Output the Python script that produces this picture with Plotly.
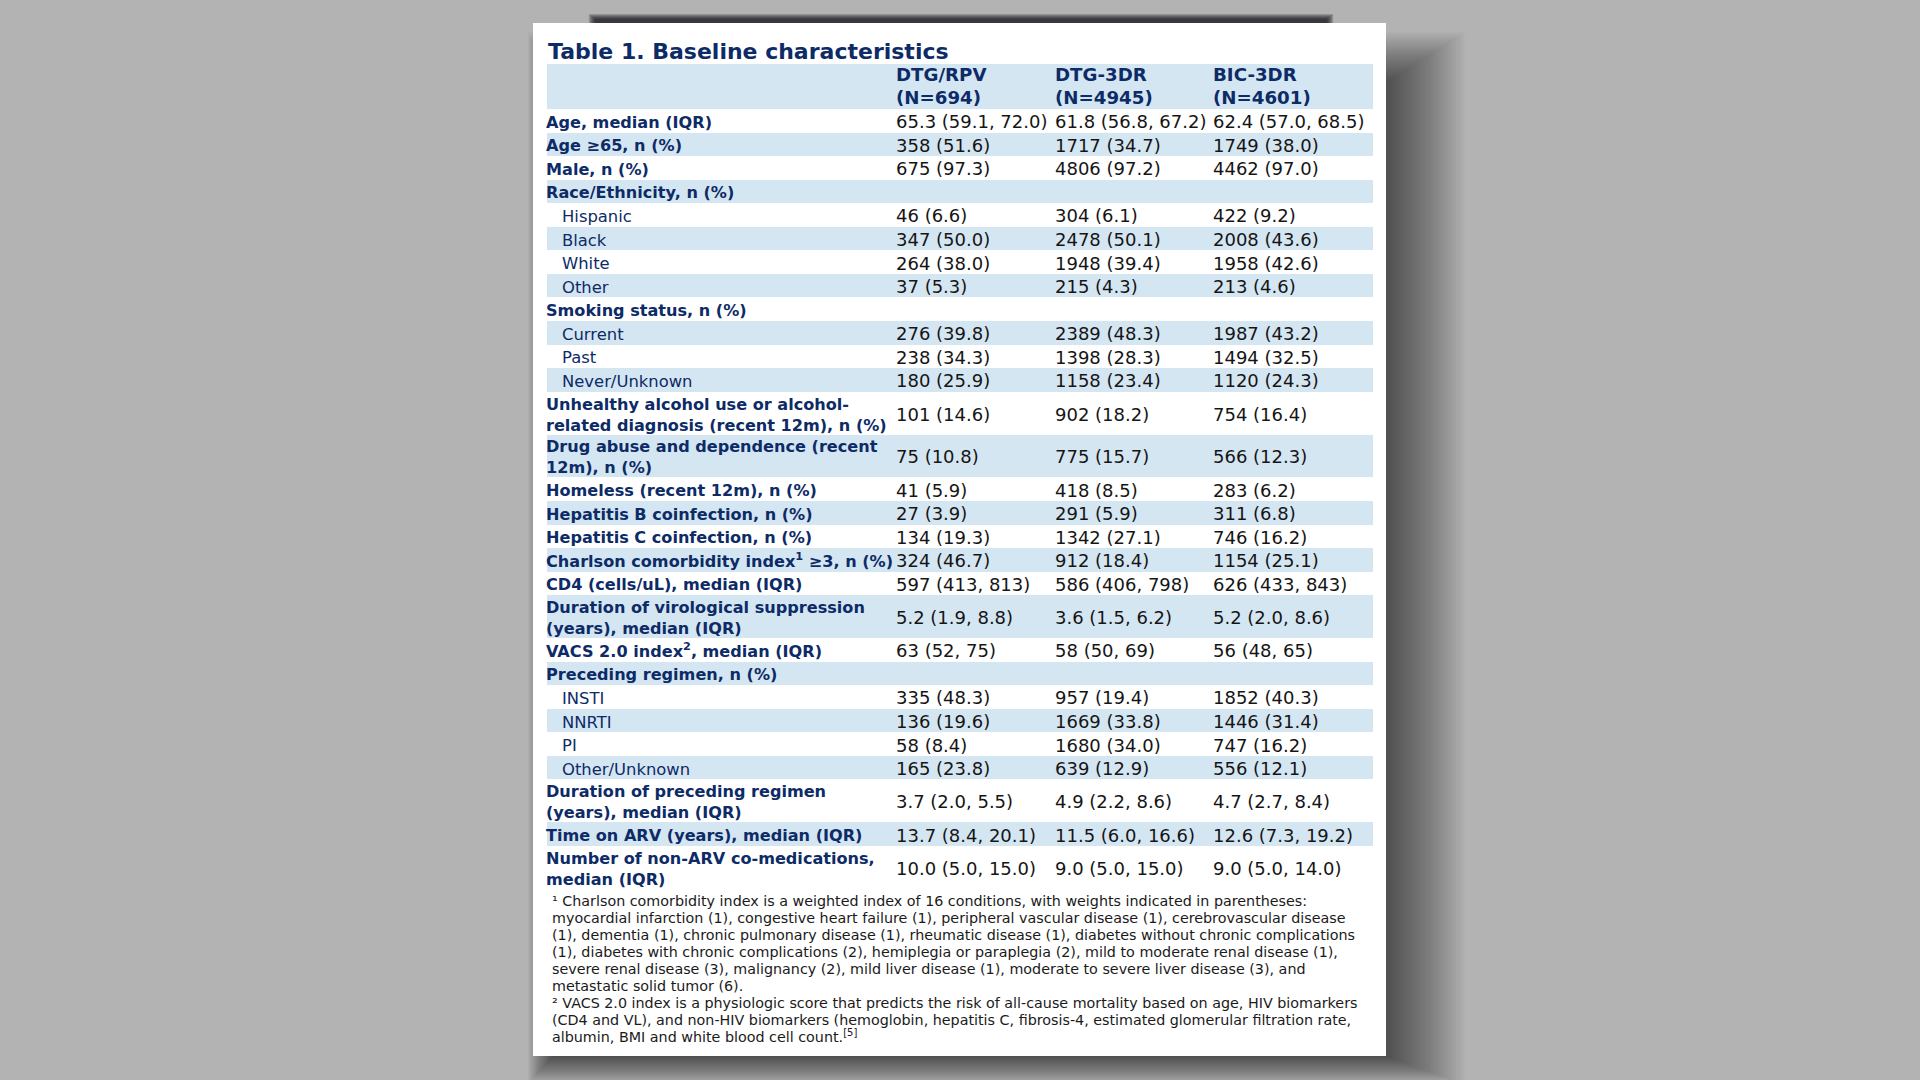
import plotly.graph_objects as go

# ---- data -------------------------------------------------------------
arms = ["DTG/RPV", "DTG-3DR", "BIC-3DR"]
arm_n = [694, 4945, 4601]

labels = [
    "Age, median (IQR)",
    "Age ≥65, n (%)",
    "Male, n (%)",
    "Race/Ethnicity, n (%)",
    "Hispanic",
    "Black",
    "White",
    "Other",
    "Smoking status, n (%)",
    "Current",
    "Past",
    "Never/Unknown",
    "Unhealthy alcohol use or alcohol-<br>related diagnosis (recent 12m), n (%)",
    "Drug abuse and dependence (recent<br>12m), n (%)",
    "Homeless (recent 12m), n (%)",
    "Hepatitis B coinfection, n (%)",
    "Hepatitis C coinfection, n (%)",
    "Charlson comorbidity index<sup>1</sup> ≥3, n (%)",
    "CD4 (cells/uL), median (IQR)",
    "Duration of virological suppression<br>(years), median (IQR)",
    "VACS 2.0 index<sup>2</sup>, median (IQR)",
    "Preceding regimen, n (%)",
    "INSTI",
    "NNRTI",
    "PI",
    "Other/Unknown",
    "Duration of preceding regimen<br>(years), median (IQR)",
    "Time on ARV (years), median (IQR)",
    "Number of non-ARV co-medications,<br>median (IQR)",
]
is_sub = [
    False, False, False, False, True, True, True, True,
    False, True, True, True, False, False, False, False, False,
    False, False, False, False, False, True, True, True, True,
    False, False, False,
]

dtg_rpv = [
    "65.3 (59.1, 72.0)", "358 (51.6)", "675 (97.3)", "",
    "46 (6.6)", "347 (50.0)", "264 (38.0)", "37 (5.3)", "",
    "276 (39.8)", "238 (34.3)", "180 (25.9)", "101 (14.6)", "75 (10.8)",
    "41 (5.9)", "27 (3.9)", "134 (19.3)", "324 (46.7)", "597 (413, 813)",
    "5.2 (1.9, 8.8)", "63 (52, 75)", "", "335 (48.3)", "136 (19.6)",
    "58 (8.4)", "165 (23.8)", "3.7 (2.0, 5.5)", "13.7 (8.4, 20.1)",
    "10.0 (5.0, 15.0)",
]
dtg_3dr = [
    "61.8 (56.8, 67.2)", "1717 (34.7)", "4806 (97.2)", "",
    "304 (6.1)", "2478 (50.1)", "1948 (39.4)", "215 (4.3)", "",
    "2389 (48.3)", "1398 (28.3)", "1158 (23.4)", "902 (18.2)", "775 (15.7)",
    "418 (8.5)", "291 (5.9)", "1342 (27.1)", "912 (18.4)", "586 (406, 798)",
    "3.6 (1.5, 6.2)", "58 (50, 69)", "", "957 (19.4)", "1669 (33.8)",
    "1680 (34.0)", "639 (12.9)", "4.9 (2.2, 8.6)", "11.5 (6.0, 16.6)",
    "9.0 (5.0, 15.0)",
]
bic_3dr = [
    "62.4 (57.0, 68.5)", "1749 (38.0)", "4462 (97.0)", "",
    "422 (9.2)", "2008 (43.6)", "1958 (42.6)", "213 (4.6)", "",
    "1987 (43.2)", "1494 (32.5)", "1120 (24.3)", "754 (16.4)", "566 (12.3)",
    "283 (6.2)", "311 (6.8)", "746 (16.2)", "1154 (25.1)", "626 (433, 843)",
    "5.2 (2.0, 8.6)", "56 (48, 65)", "", "1852 (40.3)", "1446 (31.4)",
    "747 (16.2)", "556 (12.1)", "4.7 (2.7, 8.4)", "12.6 (7.3, 19.2)",
    "9.0 (5.0, 14.0)",
]

footnotes = [
    "¹ Charlson comorbidity index is a weighted index of 16 conditions, with weights indicated in parentheses:",
    "myocardial infarction (1), congestive heart failure (1), peripheral vascular disease (1), cerebrovascular disease",
    "(1), dementia (1), chronic pulmonary disease (1), rheumatic disease (1), diabetes without chronic complications",
    "(1), diabetes with chronic complications (2), hemiplegia or paraplegia (2), mild to moderate renal disease (1),",
    "severe renal disease (3), malignancy (2), mild liver disease (1), moderate to severe liver disease (3), and",
    "metastatic solid tumor (6).",
    "² VACS 2.0 index is a physiologic score that predicts the risk of all-cause mortality based on age, HIV biomarkers",
    "(CD4 and VL), and non-HIV biomarkers (hemoglobin, hepatitis C, fibrosis-4, estimated glomerular filtration rate,",
    "albumin, BMI and white blood cell count.<sup>[5]</sup>",
]

# ---- layout constants (pixels) --------------------------------------------
W, H = 1920, 1080
FONT = "DejaVu Sans"
NAVY = "#0d2b66"
INK = "#151515"
STRIPE = "#d5e6f3"
BG = "#b3b3b3"

page = (533, 23, 1386, 1056)
band_x0, band_x1 = 547, 1373
header_top, header_h = 64, 45
row_h1, row_h2 = 23.55, 42.9
text_dy = 3            # baseline nudge so glyphs sit centred in the rows
label_x, sub_x = 546, 562
col_x = [896, 1055, 1213]
note_x, note_top, note_step = 552, 902, 17.1

# row geometry from the label line counts
heights = [row_h2 if "<br>" in lab else row_h1 for lab in labels]
centers = []
y = header_top + header_h
for h in heights:
    centers.append(y + h / 2)
    y += h
text_y = [c + text_dy for c in centers]

nb = lambda s: s.replace(" ", "\u00a0")

fig = go.Figure()

# header + striped rows
fig.add_trace(go.Bar(
    orientation="h",
    y=[header_top + header_h / 2] + centers,
    x=[band_x1 - band_x0] * (len(labels) + 1),
    base=band_x0,
    width=[header_h] + heights,
    marker=dict(color=[STRIPE if i % 2 == 0 else "white" for i in range(len(labels) + 1)],
                line=dict(width=0)),
    hoverinfo="skip",
))

# header text
fig.add_trace(go.Scatter(
    x=col_x * 2,
    y=[header_top + 12.5] * 3 + [header_top + 35.5] * 3,
    text=arms + [f"(N={n})" for n in arm_n],
    mode="text", textposition="middle right",
    textfont=dict(family=FONT, size=18.2, color=NAVY, weight="bold"),
    hoverinfo="skip",
))

# label column
main_idx = [i for i, s in enumerate(is_sub) if not s]
sub_idx = [i for i, s in enumerate(is_sub) if s]
fig.add_trace(go.Scatter(
    x=[label_x] * len(main_idx),
    y=[text_y[i] for i in main_idx],
    text=[labels[i] for i in main_idx],
    mode="text", textposition="middle right",
    textfont=dict(family=FONT, size=16.1, color=NAVY, weight="bold"),
    hoverinfo="skip",
))
fig.add_trace(go.Scatter(
    x=[sub_x] * len(sub_idx),
    y=[text_y[i] for i in sub_idx],
    text=[labels[i] for i in sub_idx],
    mode="text", textposition="middle right",
    textfont=dict(family=FONT, size=16.4, color=NAVY),
    hoverinfo="skip",
))

# value columns (blank cells are skipped)
for cx, col in zip(col_x, [dtg_rpv, dtg_3dr, bic_3dr]):
    keep = [i for i, v in enumerate(col) if v]
    fig.add_trace(go.Scatter(
        x=[cx] * len(keep), y=[text_y[i] for i in keep],
        text=[nb(col[i]) for i in keep],
        mode="text", textposition="middle right",
        textfont=dict(family=FONT, size=18, color=INK),
        hoverinfo="skip",
    ))

# footnotes
fig.add_trace(go.Scatter(
    x=[note_x] * len(footnotes),
    y=[note_top + i * note_step for i in range(len(footnotes))],
    text=footnotes,
    mode="text", textposition="middle right",
    textfont=dict(family=FONT, size=14.3, color="#1a1a1a"),
    hoverinfo="skip",
))

# page with soft drop shadow (many faint layers to fake a blur)
shapes = []
for k in range(1, 29):
    shapes.append(dict(type="rect", xref="x", yref="y", layer="below",
                       x0=page[0] + 20 - 0.9 * k, x1=page[2] + 2.8 * k,
                       y0=page[1] + 60 - 1.8 * k, y1=page[3] + 1.0 * k,
                       fillcolor="black", opacity=0.025, line=dict(width=0)))
for k in range(1, 7):
    shapes.append(dict(type="rect", xref="x", yref="y", layer="below",
                       x0=596 - k * 1.2, x1=1326 + k * 1.2,
                       y0=20 - k * 1.0, y1=page[1] + 2,
                       fillcolor="#101018", opacity=0.2, line=dict(width=0)))
shapes.append(dict(type="rect", xref="x", yref="y", layer="below",
                   x0=page[0], x1=page[2], y0=page[1], y1=page[3],
                   fillcolor="white", line=dict(width=0)))

fig.update_layout(
    width=W, height=H,
    margin=dict(l=0, r=0, t=0, b=0),
    paper_bgcolor=BG, plot_bgcolor=BG,
    showlegend=False,
    bargap=0,
    shapes=shapes,
    xaxis=dict(range=[0, W], visible=False, fixedrange=True),
    yaxis=dict(range=[H, 0], visible=False, fixedrange=True),
    annotations=[
        dict(x=label_x, y=51, xref="x", yref="y", xanchor="left", yanchor="middle",
             text="<b>Table 1. Baseline characteristics</b>", showarrow=False,
             font=dict(family=FONT, size=22, color=NAVY)),
    ],
)

fig.write_html(
    "out.html",
    config={"displayModeBar": False},
    post_script="document.body.style.margin='0';document.body.style.overflow='hidden';",
)
